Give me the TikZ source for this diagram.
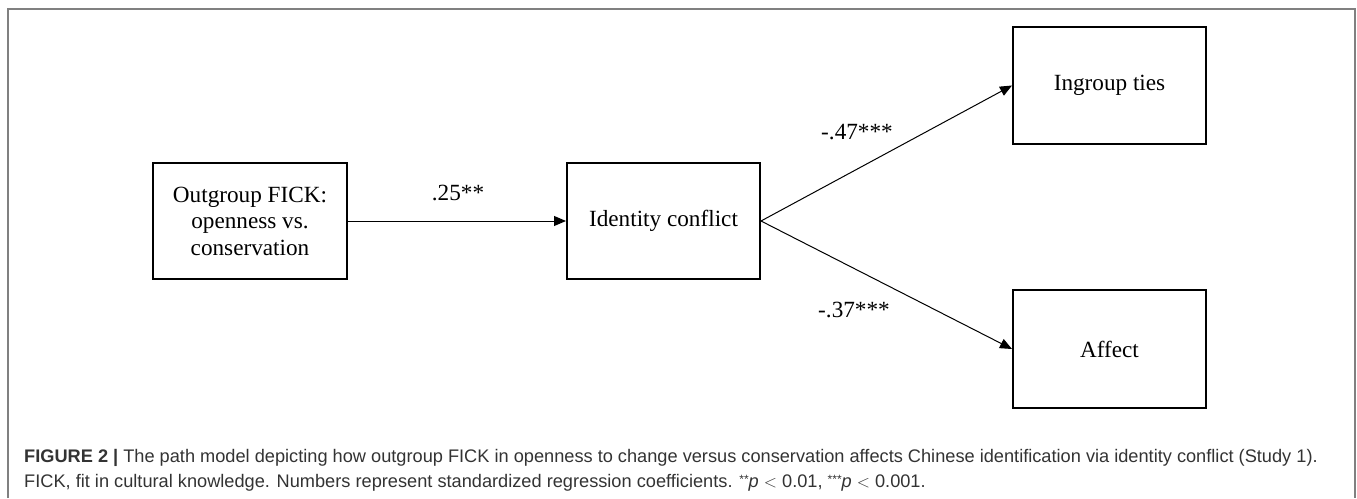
\documentclass[tikz,border=0pt]{standalone}
\usepackage{fontspec}
\setmainfont{Liberation Serif}
\newfontfamily\capfont{Liberation Sans}
\usetikzlibrary{arrows.meta}
\newcommand{\capstars}[1]{\raisebox{0.4ex}{\fontsize{12}{12}\selectfont #1}}
\begin{document}
\begin{tikzpicture}[x=1pt,y=-1pt,
  box/.style={draw=black,line width=2pt,inner sep=0pt,font=\fontsize{23.2}{26.5}\selectfont,align=center},
  conn/.style={draw=black,line width=1pt,-{Triangle[length=12pt,width=10pt]}},
  coef/.style={font=\fontsize{23.2}{26}\selectfont},
  captext/.style={anchor=base west,inner sep=0pt,text=black!80,font=\capfont\fontsize{18.2}{22}\selectfont}]
\useasboundingbox (0,0) rectangle (1357,498);
\draw[gray,line width=1.5pt] (8,498) -- (8,9) -- (1355,9) -- (1355,498);
\node[box,minimum width=194pt,minimum height=116pt] (out) at (250,221) {Outgroup FICK:\\openness vs.\\conservation};
\node[box,minimum width=193pt,minimum height=116pt] (id) at (663.5,221) {Identity conflict};
\node[box,minimum width=193pt,minimum height=117pt] (in) at (1109.5,85.5) {Ingroup ties};
\node[box,minimum width=193pt,minimum height=118pt] (af) at (1109.5,349) {Affect};
\draw[conn] (out.east) -- (id.west);
\draw[conn] (id.east) -- (in.west);
\draw[conn] (id.east) -- (af.west);
\node[coef] (c1) at (458,193) {.25**};
\node[coef] (c2) at (857,132) {-.47***};
\node[coef] (c3) at (854,310) {-.37***};
\node[captext] (l1) at (24,462) {\textbf{FIGURE 2 |} The path model depicting how outgroup FICK in openness to change versus conservation affects Chinese identification via identity conflict (Study 1).};
\node[captext] (l2) at (24,487) {FICK, fit in cultural knowledge. Numbers represent standardized regression coefficients. \capstars{**}\textit{p} $<$ 0.01, \capstars{***}\textit{p} $<$ 0.001.};
\end{tikzpicture}
\end{document}
